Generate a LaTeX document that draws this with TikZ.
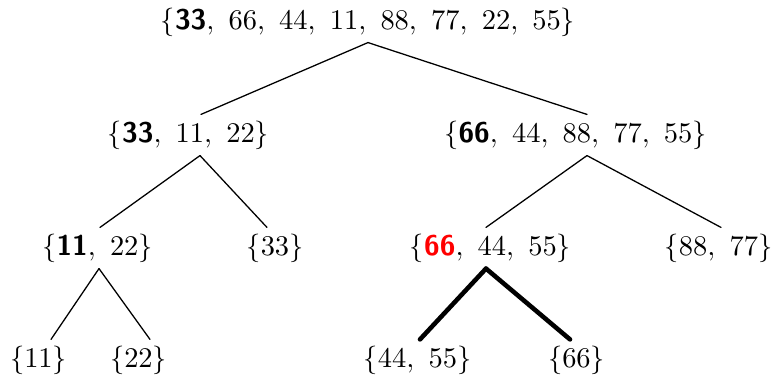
\documentclass[tikz,border=0pt]{standalone}
\usetikzlibrary{calc}
\newcommand{\pivot}[1]{\mbox{\sffamily\bfseries #1}}
\newcommand{\sep}{,\mkern6mu}

\begin{document}
\begin{tikzpicture}[x=0.351pt, y=-0.351pt, line width=0.45pt, line cap=round, line join=round,
    every node/.style={inner sep=2pt, font=\normalsize},
    cut/.style={line width=1.6pt}]
    \useasboundingbox (0,0) rectangle (775,376);

    % sets, level by level
    \node (all) at (368,22) {$\{\pivot{33}\sep 66\sep 44\sep 11\sep 88\sep 77\sep 22\sep 55\}$};

    \node (l)  at (188.5,135) {$\{\pivot{33}\sep 11\sep 22\}$};
    \node (r)  at (575.5,135) {$\{\pivot{66}\sep 44\sep 88\sep 77\sep 55\}$};

    \node (ll) at (97.5,248)  {$\{\pivot{11}\sep 22\}$};
    \node (lr) at (275,248)   {$\{33\}$};
    \node (rl) at (490.5,248) {$\{\textcolor{red}{\pivot{66}}\sep 44\sep 55\}$};
    \node (rr) at (718.5,248) {$\{88\sep 77\}$};

    \node (lll) at (38.5,360)  {$\{11\}$};
    \node (llr) at (138.5,360) {$\{22\}$};
    \node (rll) at (417.5,360) {$\{44\sep 55\}$};
    \node (rlr) at (576.5,360) {$\{66\}$};

    % edges
    \draw (all.south) -- ([shift={(12.5,0)}]l.north);
    \draw (all.south) -- ([shift={(11.5,0)}]r.north);

    \draw ([shift={(11.5,0)}]l.south) -- ([shift={(2.5,0)}]ll.north);
    \draw ([shift={(11.5,0)}]l.south) -- ([shift={(-8,0)}]lr.north);
    \draw ([shift={(11.5,0)}]r.south) -- ([shift={(-4.5,0)}]rl.north);
    \draw ([shift={(11.5,0)}]r.south) -- ([shift={(2.5,0)}]rr.north);

    \draw ([shift={(1.5,0)}]ll.south) -- ([shift={(12.5,0)}]lll.north);
    \draw ([shift={(1.5,0)}]ll.south) -- ([shift={(11.5,0)}]llr.north);
    \draw[cut] ([shift={(-4.5,0)}]rl.south) -- ([shift={(2.5,0)}]rll.north);
    \draw[cut] ([shift={(-4.5,0)}]rl.south) -- ([shift={(-6.5,0)}]rlr.north);
\end{tikzpicture}
\end{document}
